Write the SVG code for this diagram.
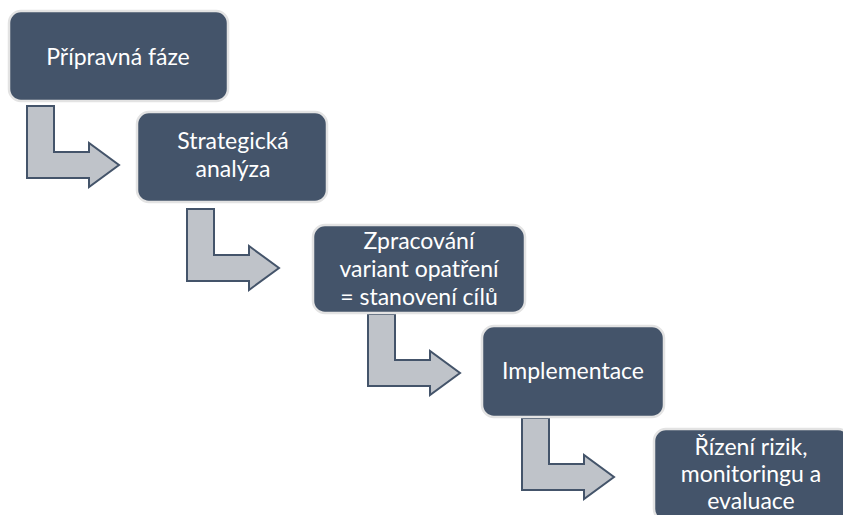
<svg xmlns="http://www.w3.org/2000/svg" width="843" height="515" viewBox="0 0 843 515">
<style>
.box{fill:#44546A;stroke:#E3E3E3;stroke-width:2.5}
.t{font-family:Lato,"Open Sans","Liberation Sans",sans-serif;font-size:23px;fill:#FFFFFF;text-anchor:middle}
.arr{fill:#BFC3C9;stroke:#44546A;stroke-width:2;stroke-linejoin:miter}
</style>
<defs>
<path id="bent" class="arr" d="M0,0 H27 V46 H62 V37 L92,59 L62,81 V72 H0 Z"/>
</defs>
<rect width="843" height="515" fill="#FFFFFF"/>
<g id="connectors">
<use href="#bent" x="27" y="106"/>
<use href="#bent" x="187" y="209"/>
<use href="#bent" x="368" y="314"/>
<use href="#bent" x="522" y="418"/>
</g>
<g id="node1">
<rect class="box" x="9" y="11" width="219" height="90" rx="12"/>
<text class="t" x="118" y="65">Přípravná fáze</text>
</g>
<g id="node2">
<rect class="box" x="137" y="112" width="190" height="90" rx="12"/>
<text class="t" x="233" y="149">Strategická</text>
<text class="t" x="233" y="177">analýza</text>
</g>
<g id="node3">
<rect class="box" x="313" y="225" width="212" height="88" rx="12"/>
<text class="t" x="419" y="249">Zpracování</text>
<text class="t" x="419" y="277">variant opatření</text>
<text class="t" x="419" y="305">= stanovení cílů</text>
</g>
<g id="node4">
<rect class="box" x="482" y="326" width="182" height="91" rx="12"/>
<text class="t" x="573" y="379">Implementace</text>
</g>
<g id="node5">
<rect class="box" x="654" y="429" width="196" height="92" rx="12"/>
<text class="t" x="751" y="455">Řízení rizik,</text>
<text class="t" x="751" y="482">monitoringu a</text>
<text class="t" x="751" y="509">evaluace</text>
</g>
</svg>
